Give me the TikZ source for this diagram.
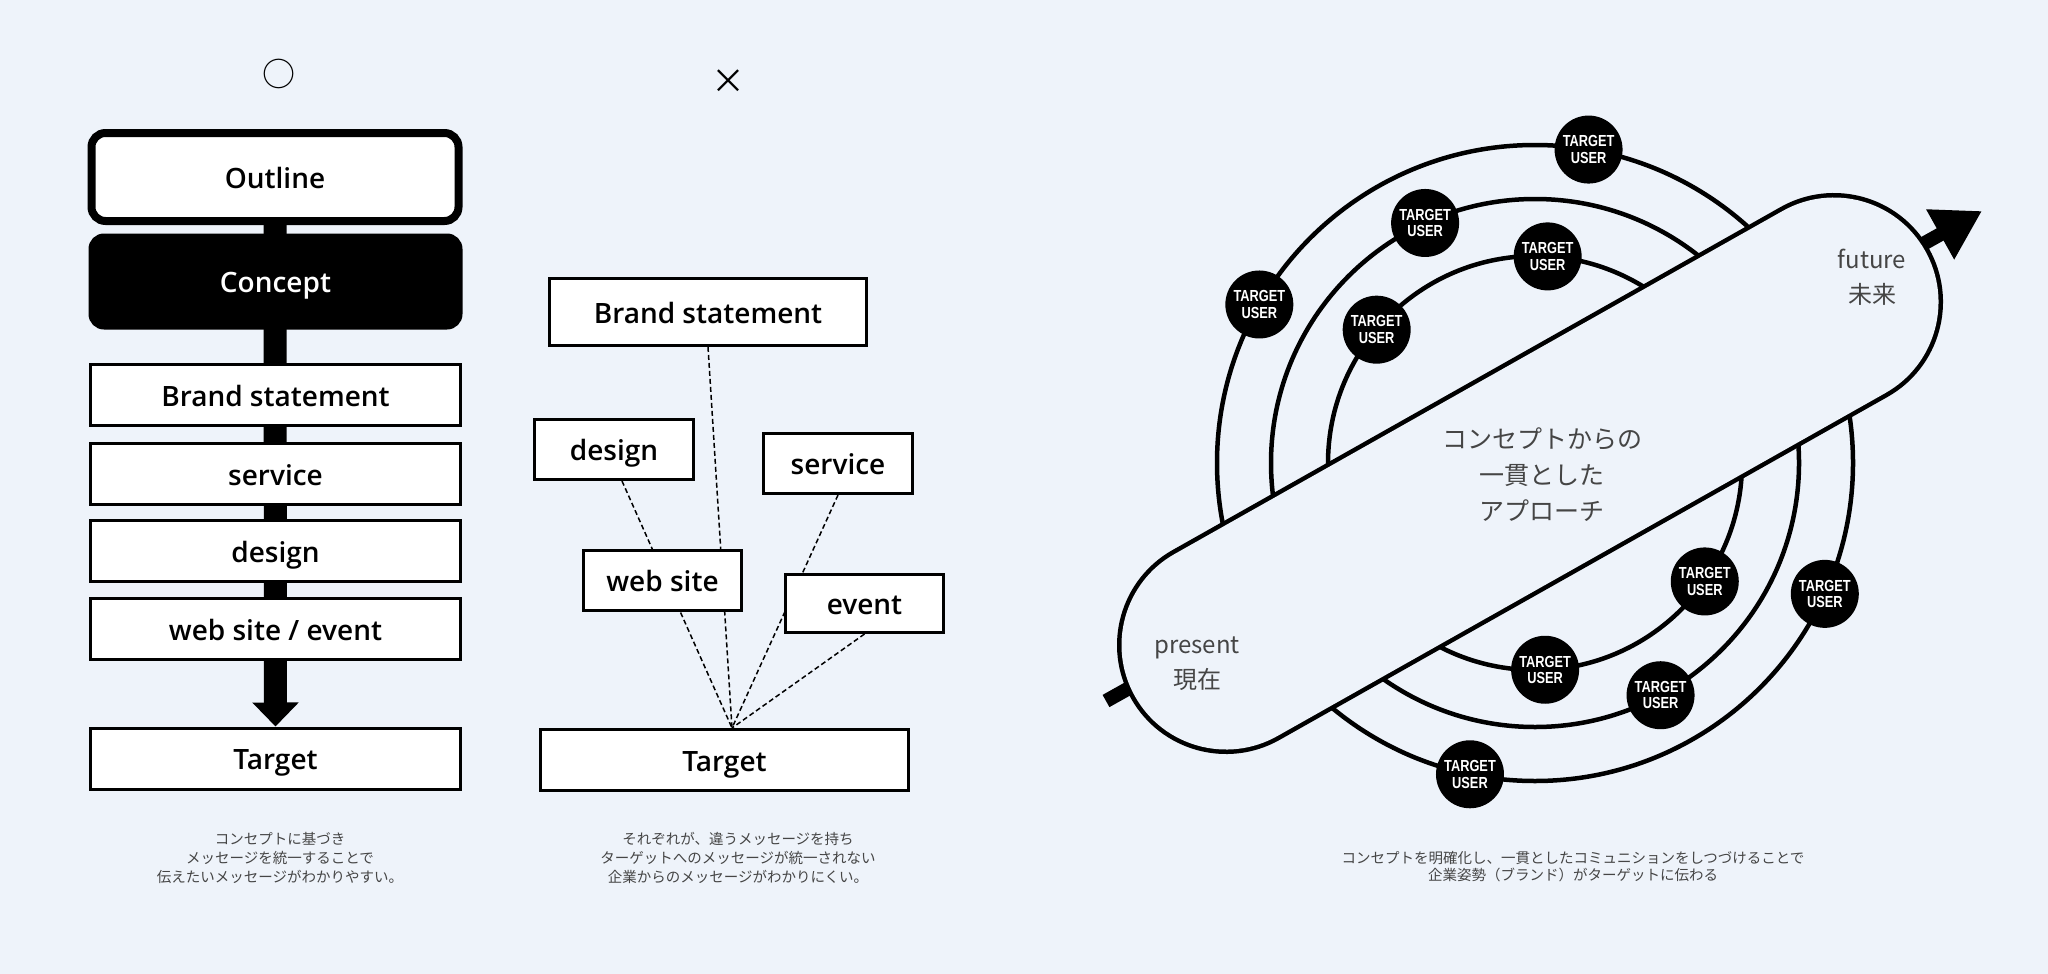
\documentclass[tikz,border=0pt]{standalone}
\usepackage{fontspec}
\usetikzlibrary{arrows.meta,calc}
\setmainfont{Open Sans}[UprightFont={* Semibold}]
\newfontfamily\jpfont{Noto Sans CJK JP}
\newfontfamily\userfont[FakeStretch=0.8]{Liberation Sans}
\definecolor{paper}{HTML}{EEF3FA}
\definecolor{ink}{HTML}{454545}
\pgfdeclarelayer{back}
\pgfsetlayers{back,main}

\begin{document}
\begin{tikzpicture}[x=1pt,y=-1pt,
    box/.style={draw,line width=3pt,fill=white,inner sep=0pt,
      text height=22.5pt,text depth=0pt,font=\fontsize{28}{33}\selectfont},
    link/.style={dash pattern=on 5pt off 3pt,line width=1.5pt},
    user/.style={circle,fill=black,minimum size=68pt,inner sep=0pt,text=white,
      align=center,font=\userfont\bfseries\fontsize{16}{16.5}\selectfont},
    orbit/.style={line width=4.5pt},
    word/.style={text=ink,align=center,font=\jpfont\fontsize{24}{35}\selectfont},
    note/.style={text=ink,align=center,font=\jpfont\fontsize{14.5}{19}\selectfont}]
\useasboundingbox (0,0) rectangle (2048,974);
\begin{pgfonlayer}{back}
\fill[paper] (0,0) rectangle (2048,974);
\end{pgfonlayer}

            % One concept
\node[font=\jpfont\fontsize{33}{33}\selectfont] (good) at (279,74) {○};
\node[box,rounded corners=14pt,line width=8pt,minimum width=367pt,minimum height=88pt] (outline) at (275,177) {Outline};
\node[box,rounded corners=14pt,fill=black,text=white,minimum width=371pt,minimum height=93pt] (concept) at (275.5,281.5) {Concept};
\node[box,minimum width=370pt,minimum height=61pt] (brand) at (275.5,395) {Brand statement};
\node[box,minimum width=370pt,minimum height=61pt] (service) at (275.5,474) {service};
\node[box,minimum width=370pt,minimum height=61pt] (design) at (275.5,551) {design};
\node[box,minimum width=370pt,minimum height=61pt] (web) at (275.5,629) {web site / event};
\node[box,minimum width=370pt,minimum height=61pt] (target) at (275.5,758.5) {Target};
\begin{pgfonlayer}{back}
\draw[line width=23pt,-{Triangle[width=45pt,length=24pt]}] (outline.south) -- (target.north);
\end{pgfonlayer}

            % Scattered messages
\node[font=\jpfont\fontsize{34}{34}\selectfont] (bad) at (728,82) {×};
\node[box,minimum width=317pt,minimum height=67pt] (brand2) at (708,312) {Brand statement};
\node[box,minimum width=159pt,minimum height=60pt] (design2) at (614,449.5) {design};
\node[box,minimum width=149pt,minimum height=60pt] (service2) at (838,463.5) {service};
\node[box,minimum width=158pt,minimum height=60pt] (web2) at (662.5,580.5) {web site};
\node[box,minimum width=158pt,minimum height=58pt] (event2) at (864.5,603.5) {event};
\node[box,minimum width=368pt,minimum height=61pt] (target2) at (724.5,760) {Target};
\coordinate (hub) at (732,728);
\begin{pgfonlayer}{back}
\draw[link] (brand2.south) -- (hub);
\draw[link] ([xshift=8pt]design2.south) -- (hub);
\draw[link] (service2.south) -- (hub);
\draw[link] (event2.south) -- (hub);
\end{pgfonlayer}

            % Orbits
\coordinate (ctr) at (1535,463);
\draw[orbit] (ctr) circle[radius=207];
\draw[orbit] (ctr) circle[radius=264];
\draw[orbit] (ctr) circle[radius=318];
            % Capsule and time arrow
\coordinate (now) at (1226,645);
\coordinate (next) at (1834,302);
\coordinate (past) at (1106,701);
\coordinate (tip) at (1982,211);
\draw[line width=14pt,-{Triangle[width=54pt,length=48pt]}] (past) -- (tip);
\draw[line width=218pt,line cap=round] (now) -- (next);
\draw[paper,line width=209pt,line cap=round] (now) -- (next);
            % Target users
\node[user] (u1) at ([shift={(-80.3:318)}]ctr) {TARGET\\USER};
\node[user] (u2) at ([shift={(-114.6:264)}]ctr) {TARGET\\USER};
\node[user] (u3) at ([shift={(-86.5:207)}]ctr) {TARGET\\USER};
\node[user] (u4) at ([shift={(-150.1:318)}]ctr) {TARGET\\USER};
\node[user] (u5) at ([shift={(-139.9:207)}]ctr) {TARGET\\USER};
\node[user] (u6) at ([shift={(34.9:207)}]ctr) {TARGET\\USER};
\node[user] (u7) at ([shift={(24.3:318)}]ctr) {TARGET\\USER};
\node[user] (u8) at ([shift={(87.2:207)}]ctr) {TARGET\\USER};
\node[user] (u9) at ([shift={(61.6:264)}]ctr) {TARGET\\USER};
\node[user] (u10) at ([shift={(101.8:318)}]ctr) {TARGET\\USER};
            % Labels
\node[word,font=\jpfont\fontsize{25}{36}\selectfont] (idea) at (1542,475) {コンセプトからの\\一貫とした\\アプローチ};
\node[word] (future) at (1872,277) {future\\未来};
\node[word] (present) at (1197,664) {present\\現在};

            % Captions
\node[note] (capA) at (280,858) {コンセプトに基づき\\メッセージを統一することで\\伝えたいメッセージがわかりやすい。};
\node[note] (capB) at (738,858) {それぞれが、違うメッセージを持ち\\ターゲットへのメッセージが統一されない\\企業からのメッセージがわかりにくい。};
\node[note,font=\jpfont\fontsize{14.5}{17}\selectfont] (capC) at (1573,867) {コンセプトを明確化し、一貫としたコミュニションをしつづけることで\\企業姿勢（ブランド）がターゲットに伝わる};

\end{tikzpicture}
\end{document}
